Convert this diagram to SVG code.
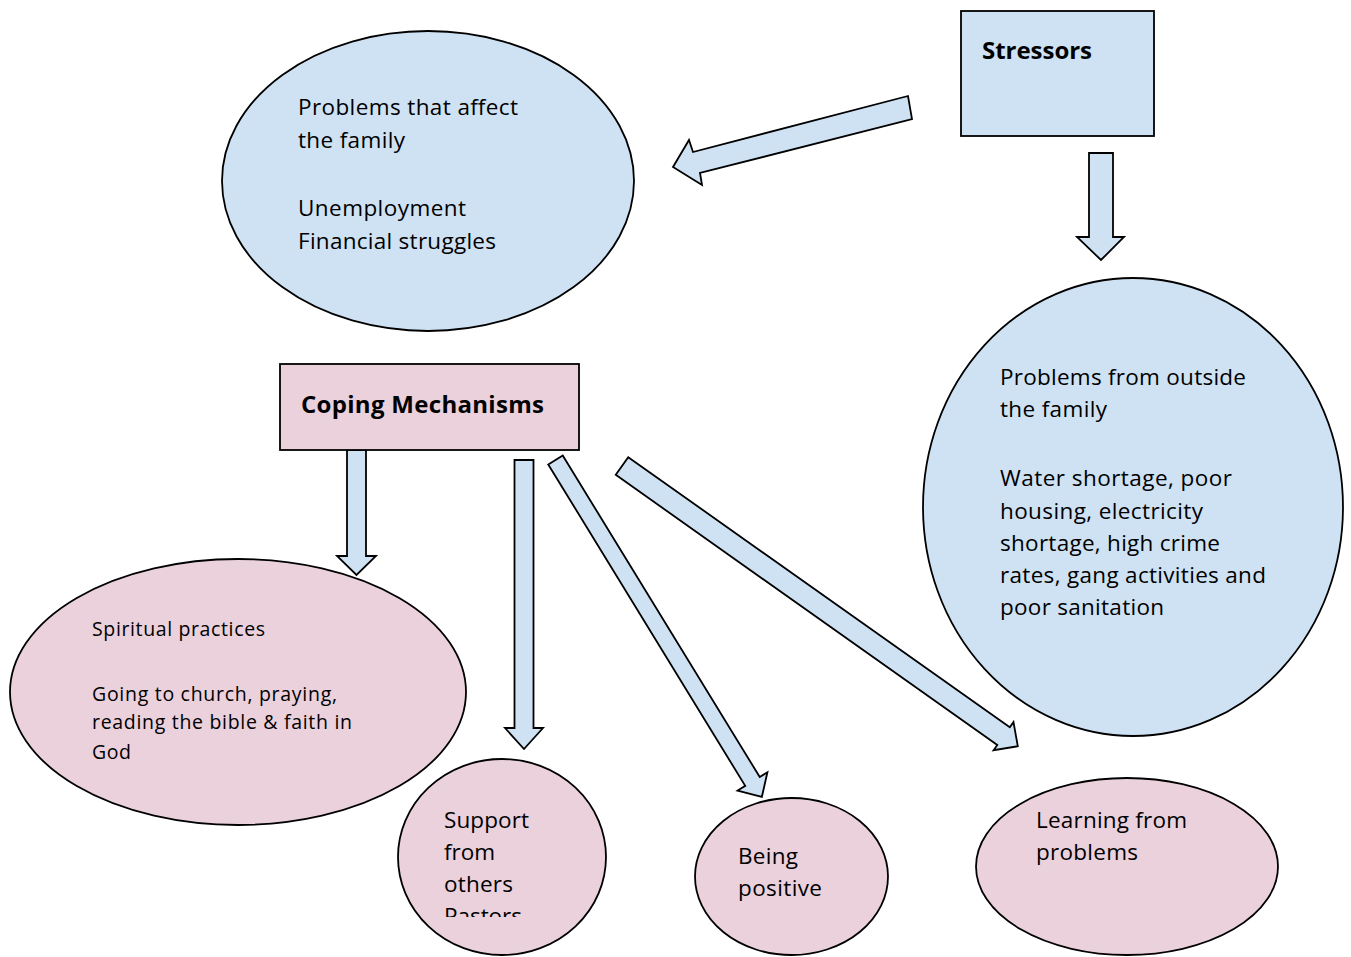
<svg xmlns="http://www.w3.org/2000/svg" width="1351" height="957" viewBox="0 0 1351 957">
<style>
.blue{fill:#cfe2f3;stroke:#000;stroke-width:1.8}
.pink{fill:#ead1dc;stroke:#000;stroke-width:1.8}
.arr{fill:#cfe2f3;stroke:#000;stroke-width:1.8;stroke-linejoin:miter}
.t{font-family:"Open Sans","Noto Sans",sans-serif;font-size:22.5px;fill:#000}
.s{font-family:"Open Sans","Noto Sans",sans-serif;font-size:19.5px;fill:#000}
.b{font-family:"Open Sans","Noto Sans",sans-serif;font-size:24px;font-weight:bold;fill:#000}
</style>
<defs>
<clipPath id="supClip"><rect x="398" y="758" width="210" height="159"/></clipPath>
</defs>
<rect width="1351" height="957" fill="#fff"/>
<g id="connectors">
<path class="arr" d="M908,96 L693,152 L689,140 L673,167 L702,185 L700,173 L912,119 Z"/>
<path class="arr" d="M1089,153 L1113,153 L1113,237 L1124,237 L1101,260 L1077,237 L1089,237 Z"/>
<path class="arr" d="M347,450 L366,450 L366,556 L376,556 L356.5,575 L337,556 L347,556 Z"/>
<path class="arr" d="M514.5,460 L533.5,460 L533.5,728 L543,728 L524,749 L505,728 L514.5,728 Z"/>
<path class="arr" transform="translate(555.5,460) rotate(58.5)" d="M0,-8.5 L377,-8.5 L377,-17.5 L395,0 L377,17.5 L377,8.5 L0,8.5 Z"/>
<path class="arr" transform="translate(622,466) rotate(35.3)" d="M0,-10.8 L467.5,-10.8 L467.5,-17.2 L485,0 L467.5,17.2 L467.5,10.8 L0,10.8 Z"/>
</g>
<g id="stressors">
<rect class="blue" x="961" y="11" width="193" height="125"/>
<text class="b" x="982" y="59" textLength="110">Stressors</text>
</g>
<g id="family-problems">
<ellipse class="blue" cx="428" cy="181" rx="206" ry="150"/>
<text class="t" x="298" y="115" textLength="220">Problems that affect</text>
<text class="t" x="298" y="148" textLength="107">the family</text>
<text class="t" x="298" y="216" textLength="168">Unemployment</text>
<text class="t" x="298" y="249" textLength="198">Financial struggles</text>
</g>
<g id="outside-problems">
<ellipse class="blue" cx="1133" cy="507" rx="210" ry="229"/>
<text class="t" x="1000" y="385" textLength="246">Problems from outside</text>
<text class="t" x="1000" y="417" textLength="107">the family</text>
<text class="t" x="1000" y="486" textLength="232">Water shortage, poor</text>
<text class="t" x="1000" y="519" textLength="203">housing, electricity</text>
<text class="t" x="1000" y="551" textLength="220">shortage, high crime</text>
<text class="t" x="1000" y="583" textLength="266">rates, gang activities and</text>
<text class="t" x="1000" y="615" textLength="164">poor sanitation</text>
</g>
<g id="coping">
<rect x="280" y="364" width="299" height="86" fill="#ead1dc" stroke="#000" stroke-width="1.8"/>
<text class="b" x="301" y="413" textLength="243">Coping Mechanisms</text>
</g>
<g id="spiritual">
<ellipse class="pink" cx="238" cy="692" rx="228" ry="133"/>
<text class="s" x="92" y="636" textLength="173">Spiritual practices</text>
<text class="s" x="92" y="701" textLength="245">Going to church, praying,</text>
<text class="s" x="92" y="729" textLength="260">reading the bible &amp; faith in</text>
<text class="s" x="92" y="759" textLength="39">God</text>
</g>
<g id="support">
<ellipse class="pink" cx="502" cy="857" rx="104" ry="98"/>
<g clip-path="url(#supClip)">
<text class="t" x="444" y="828" textLength="85">Support</text>
<text class="t" x="444" y="860" textLength="51">from</text>
<text class="t" x="444" y="892" textLength="69">others</text>
<text class="t" x="444" y="924" textLength="78">Pastors</text>
</g>
</g>
<g id="positive">
<ellipse class="pink" cx="791.5" cy="876.5" rx="96.5" ry="78.5"/>
<text class="t" x="738" y="864" textLength="60">Being</text>
<text class="t" x="738" y="896" textLength="84">positive</text>
</g>
<g id="learning">
<ellipse class="pink" cx="1127" cy="866.5" rx="151" ry="88.5"/>
<text class="t" x="1036" y="828" textLength="151">Learning from</text>
<text class="t" x="1036" y="860" textLength="102">problems</text>
</g>
</svg>
